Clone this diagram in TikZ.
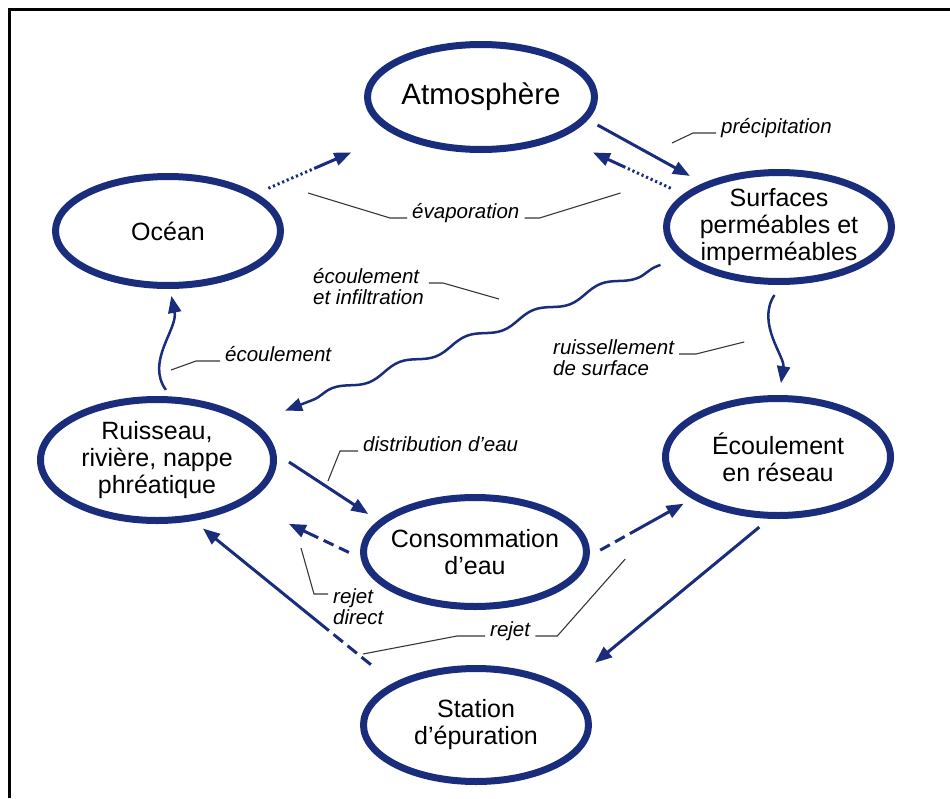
\documentclass[tikz,border=0pt]{standalone}
\usepackage{fontspec}
\setmainfont{Liberation Sans}
\usetikzlibrary{arrows.meta, shapes.geometric, decorations.pathmorphing, calc}

\definecolor{bleucycle}{RGB}{26,45,125}
\definecolor{grisrenvoi}{RGB}{55,55,55}

\tikzset{
    lieu/.style={ellipse, draw=bleucycle, line width=7pt, inner sep=0pt,
        label={[font=\fontsize{25}{27}\selectfont, align=center]center:#1}},
    fleche/.style={bleucycle, line width=3pt, line cap=butt, -{Triangle[length=17pt, width=13pt]}},
    vague/.style={fleche, line width=2.5pt},
    pointille/.style={dash pattern=on 2.2pt off 2.8pt on 2.2pt off 2.8pt on 2.2pt off 2.8pt on 2.2pt off 2.8pt on 2.2pt off 2.8pt on 2.2pt off 2.8pt on 2.2pt off 2.8pt on 2.2pt off 2.8pt on 2.2pt off 2.8pt on 2.2pt off 2.8pt on 300pt off 1pt},
    tirets/.style={dash pattern=on 11pt off 6pt on 11pt off 6pt on 300pt off 1pt},
    renvoi/.style={grisrenvoi, line width=1.1pt},
    legende/.style={font=\fontsize{20.5}{21}\selectfont\itshape, align=left, inner sep=5pt}
}

\begin{document}
\begin{tikzpicture}[x=1pt, y=-1pt]
    \useasboundingbox (0,0) rectangle (950,798);
    \draw[line width=2.6pt] (9.3,798) -- (9.3,9.3) -- (950,9.3);

    % les lieux du cycle
    \node[lieu={\fontsize{29.5}{31}\selectfont Atmosphère}, minimum width=227pt, minimum height=105pt] (atm) at (481,97) {};
    \node[lieu=Océan, minimum width=225pt, minimum height=109pt] (ocean) at (168,231) {};
    \node[lieu={Surfaces\\perméables et\\imperméables}, minimum width=225pt, minimum height=109pt] (surf) at (779,227) {};
    \node[lieu={Ruisseau,\\rivière, nappe\\phréatique}, minimum width=233pt, minimum height=121pt] (ruis) at (157,460) {};
    \node[lieu={Écoulement\\en réseau}, minimum width=225pt, minimum height=117pt] (reseau) at (778,457) {};
    \node[lieu={Consommation\\d’eau}, minimum width=223pt, minimum height=109pt] (conso) at (475,552) {};
    \node[lieu={Station\\d’épuration}, minimum width=225pt, minimum height=113pt] (station) at (476,725) {};

    % flux
    \draw[fleche, shorten <=11pt, shorten >=15pt] (atm.-12) -- (surf.150);
    \draw[fleche, pointille, shorten <=13pt, shorten >=46pt] (ocean.23) -- (atm.203);
    \draw[fleche, pointille, shorten <=14pt, shorten >=35pt] (surf.161) -- (atm.-27);
    \draw[vague, decorate, decoration={snake, segment length=72pt, amplitude=4pt, pre length=4pt, post length=20pt}]
        ($(surf.197)!21pt!(ruis.21)$) -- ($(ruis.21)!33pt!(surf.197)$);
    \draw[vague, shorten <=8pt, shorten >=7pt] (ruis.78) .. controls +(-25,-35) and +(8,40) .. (ocean.-88);
    \draw[vague, shorten <=12pt, shorten >=12pt] (surf.-88) .. controls +(-25,38) and +(6,-38) .. (reseau.89);
    \draw[fleche, shorten <=15pt, shorten >=12pt] (ruis.3) -- (conso.162);
    \draw[fleche, tirets, shorten <=13pt, shorten >=48pt] (conso.183) -- (ruis.-26);
    \draw[fleche, tirets, shorten <=12pt, shorten >=10pt] (conso.-2) -- (reseau.206);
    \draw[fleche, shorten <=13pt, shorten >=38pt] (reseau.262) -- (station.23);
    \draw[fleche, dash pattern=on 12pt off 6pt on 12pt off 6pt on 12pt off 6pt on 300pt off 1pt, shorten <=29pt, shorten >=12pt] (station.153) -- (ruis.-59);

    % textes des flux et traits de renvoi
    \node[legende, anchor=base west] (lprec) at (716,133) {précipitation};
    \draw[renvoi] (lprec.base west) -- ++(-23,0) -- ++(-21,10);
    \node[legende, anchor=base west] (levap) at (407,218) {évaporation};
    \draw[renvoi] (levap.base west) -- ++(-17,0) -- ++(-82,-25);
    \draw[renvoi] (levap.base east) -- ++(15,0) -- ++(81,-25);
    \node[legende, anchor=base west] (linfil) at (308,304) {écoulement\\et infiltration};
    \draw[renvoi] ($(linfil.base east)+(0,-21)$) -- ++(14,0) -- ++(56,16);
    \node[legende, anchor=base west] (lecoul) at (220,361) {écoulement};
    \draw[renvoi] (lecoul.base west) -- ++(-24,0) -- ++(-25,9);
    \node[legende, anchor=base west] (lruis) at (548,375) {ruissellement\\de surface};
    \draw[renvoi] ($(lruis.base east)+(0,-21)$) -- ++(17,0) -- ++(48,-12);
    \node[legende, anchor=base west] (ldistr) at (358,451) {distribution d’eau};
    \draw[renvoi] (ldistr.base west) -- ++(-18,0) -- ++(-12,30);
    \node[legende, anchor=base west] (ldirect) at (328,624) {rejet\\direct};
    \draw[renvoi] ($(ldirect.base west)+(0,-30)$) -- ++(-14,0) -- ++(-13,-46);
    \node[legende, anchor=base west] (lrejet) at (485,636) {rejet};
    \draw[renvoi] (lrejet.base west) -- ++(-28,0) -- ++(-94,18);
    \draw[renvoi] (lrejet.base east) -- ++(22,0) -- ++(68,-77);
\end{tikzpicture}
\end{document}
